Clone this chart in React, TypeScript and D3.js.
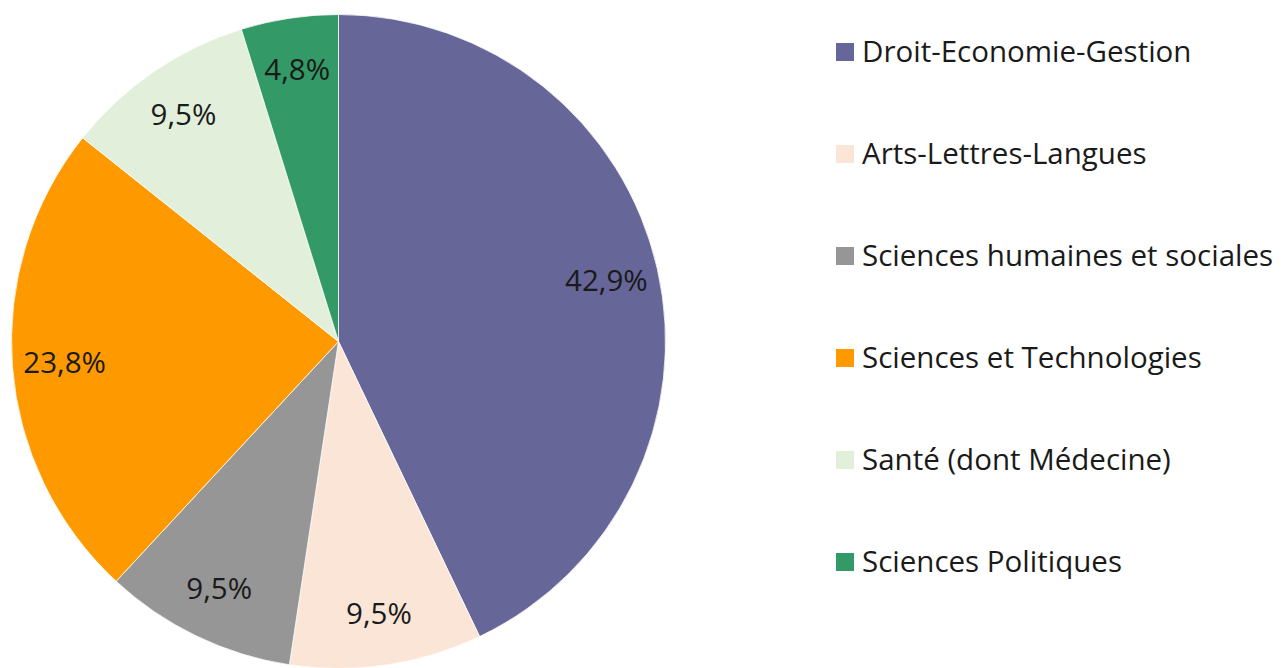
import { arc, pie, type PieArcDatum } from 'd3';

const categories = [
  'Droit-Economie-Gestion',
  'Arts-Lettres-Langues',
  'Sciences humaines et sociales',
  'Sciences et Technologies',
  'Santé (dont Médecine)',
  'Sciences Politiques',
];
const shares = [42.9, 9.5, 9.5, 23.8, 9.5, 4.8];
const shareLabels = ['42,9%', '9,5%', '9,5%', '23,8%', '9,5%', '4,8%'];
const colors = ['#666699', '#fbe5d6', '#969696', '#ff9900', '#e2efda', '#339966'];

const WIDTH = 1283;
const HEIGHT = 668;
const CENTER = { x: 338.5, y: 341.5 };
const RADIUS = 327;
const FONT = '"Open Sans", sans-serif';
const FONT_SIZE = 29.5;

type Slice = { name: string; value: number; label: string; color: string };

const slices: Slice[] = categories.map((name, i) => ({
  name,
  value: shares[i],
  label: shareLabels[i],
  color: colors[i],
}));

export default function App() {
  const layout = pie<Slice>()
    .value((d) => d.value)
    .sort(null);
  const arcs = layout(slices);

  const slicePath = arc<PieArcDatum<Slice>>().innerRadius(0).outerRadius(RADIUS);
  const labelArc = arc<PieArcDatum<Slice>>()
    .innerRadius(RADIUS * 0.84)
    .outerRadius(RADIUS * 0.84);

  return (
    <svg
      width={WIDTH}
      height={HEIGHT}
      style={{ position: 'absolute', left: 0, top: 0, background: '#ffffff' }}
    >
      <g transform={`translate(${CENTER.x}, ${CENTER.y})`}>
        {arcs.map((d) => (
          <path key={d.data.name} d={slicePath(d) ?? ''} fill={d.data.color} stroke="#ffffff" strokeWidth={0.75} />
        ))}
        {arcs.map((d) => {
          const [x, y] = labelArc.centroid(d);
          return (
            <text
              key={`label-${d.data.name}`}
              x={x}
              y={y}
              dy="0.35em"
              textAnchor="middle"
              fontFamily={FONT}
              fontSize={FONT_SIZE}
              fill="#1a1a1a"
            >
              {d.data.label}
            </text>
          );
        })}
      </g>

      <g transform="translate(836, 43)">
        {slices.map((d, i) => (
          <g key={`legend-${d.name}`} transform={`translate(0, ${i * 102})`}>
            <rect width={18} height={18} fill={d.color} />
            <text x={26} y={19} fontFamily={FONT} fontSize={FONT_SIZE} fill="#1a1a1a">
              {d.name}
            </text>
          </g>
        ))}
      </g>
    </svg>
  );
}
